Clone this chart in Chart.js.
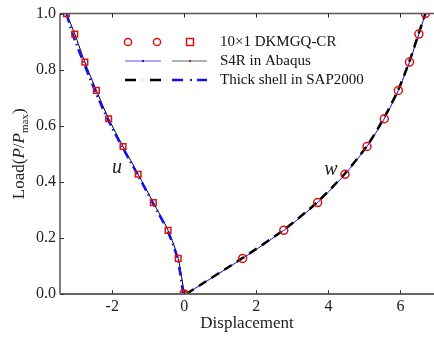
<!DOCTYPE html>
<html>
<head>
<meta charset="utf-8">
<script src="https://cdn.jsdelivr.net/npm/chart.js@4/dist/chart.umd.min.js"></script>
<style>
  html, body { margin: 0; padding: 0; background: #fff; }
  #wrap { width: 434px; height: 338px; }
</style>
</head>
<body>
<div id="wrap"><canvas id="c" width="434" height="338"></canvas></div>
<script>
// load levels P/Pmax
var loadSteps = [0, 0.127, 0.227, 0.326, 0.427, 0.526, 0.625, 0.726, 0.827, 0.927, 1.0];

// horizontal displacement u
var uDKMGQ = [-0.03, -0.17, -0.45, -0.86, -1.28, -1.70, -2.10, -2.44, -2.76, -3.04, -3.27];
var uS4R   = [0.00, -0.17, -0.45, -0.86, -1.28, -1.70, -2.10, -2.44, -2.76, -3.04, -3.27];
var uSAP   = [-0.03, -0.19, -0.47, -0.88, -1.30, -1.73, -2.13, -2.48, -2.80, -3.10, -3.27];

// vertical displacement w
var wDKMGQ = [0.00, 1.62, 2.76, 3.70, 4.46, 5.07, 5.55, 5.94, 6.25, 6.51, 6.69];
var wS4R   = [0.05, 1.62, 2.76, 3.70, 4.46, 5.07, 5.55, 5.94, 6.25, 6.51, 6.69];
var wSAP   = [0.05, 1.60, 2.74, 3.68, 4.44, 5.06, 5.53, 5.93, 6.24, 6.50, 6.69];

var xTicks = [-2, 0, 2, 4, 6];
var yTicks = [0, 0.2, 0.4, 0.6, 0.8, 1.0];

var legendLabels = ['10\u00d71 DKMGQ-CR', 'S4R in Abaqus', 'Thick shell in SAP2000'];

var RED = '#dd1111';
var BLUE = '#1010f0';
var SERIF = '"Liberation Serif", "DejaVu Serif", serif';

function pts(xs){
  return xs.map(function(x, i){ return {x: x, y: loadSteps[i]}; });
}

var annot = {
  id: 'annot',
  afterDraw: function(chart){
    var ctx = chart.ctx, a = chart.chartArea;
    var xs = chart.scales.x, ys = chart.scales.y;
    ctx.save();
    // axes frame
    ctx.strokeStyle = '#555';
    ctx.lineWidth = 1.5;
    ctx.beginPath();
    ctx.moveTo(a.left, a.top); ctx.lineTo(chart.width, a.top);
    ctx.moveTo(a.left, a.top); ctx.lineTo(a.left, a.bottom);
    ctx.stroke();
    ctx.strokeStyle = '#666';
    ctx.lineWidth = 2;
    ctx.beginPath();
    ctx.moveTo(a.left, a.bottom); ctx.lineTo(chart.width, a.bottom);
    ctx.stroke();
    // inward ticks
    ctx.lineWidth = 1;
    ctx.strokeStyle = '#333';
    ctx.beginPath();
    xTicks.forEach(function(v){
      var px = Math.round(xs.getPixelForValue(v)) + 0.5;
      ctx.moveTo(px, a.bottom); ctx.lineTo(px, a.bottom - 4);
      ctx.moveTo(px, a.top); ctx.lineTo(px, a.top + 4);
    });
    yTicks.forEach(function(v){
      var py = Math.round(ys.getPixelForValue(v)) + 0.5;
      ctx.moveTo(a.left, py); ctx.lineTo(a.left + 4, py);
    });
    ctx.stroke();

    // y title with italic P and subscript
    ctx.translate(18, (a.top + a.bottom) / 2);
    ctx.rotate(-Math.PI / 2);
    ctx.fillStyle = '#222';
    ctx.textBaseline = 'alphabetic';
    var parts = [
      ['Load(', '17px ' + SERIF, 0],
      ['P', 'italic 17px ' + SERIF, 0],
      ['/', '17px ' + SERIF, 0],
      ['P', 'italic 17px ' + SERIF, 0],
      ['max', '11px ' + SERIF, 4],
      [')', '17px ' + SERIF, 0]
    ];
    var total = 0;
    parts.forEach(function(p){ ctx.font = p[1]; total += ctx.measureText(p[0]).width; });
    var x0 = -total / 2;
    parts.forEach(function(p){
      ctx.font = p[1];
      ctx.fillText(p[0], x0, 6 + p[2]);
      x0 += ctx.measureText(p[0]).width;
    });
    ctx.setTransform(1, 0, 0, 1, 0, 0);

    // curve labels
    ctx.font = 'italic 20px ' + SERIF;
    ctx.textAlign = 'center';
    ctx.textBaseline = 'middle';
    ctx.fillText('u', 117, 168);
    ctx.fillText('w', 331, 170);

    // legend
    var lx = 125, ly = 42, gap = 19;
    ctx.lineWidth = 1.5;
    ctx.strokeStyle = RED;
    [128, 157].forEach(function(cx){
      ctx.beginPath(); ctx.arc(cx, ly, 3.6, 0, Math.PI * 2); ctx.stroke();
    });
    ctx.strokeRect(186.5, ly - 3.5, 7, 7);

    ctx.lineWidth = 1;
    ctx.strokeStyle = '#5555ff';
    ctx.beginPath(); ctx.moveTo(lx, ly + gap); ctx.lineTo(161, ly + gap); ctx.stroke();
    ctx.fillStyle = BLUE; ctx.fillRect(142, ly + gap - 1, 2, 2);
    ctx.strokeStyle = '#666';
    ctx.beginPath(); ctx.moveTo(172, ly + gap); ctx.lineTo(207, ly + gap); ctx.stroke();
    ctx.fillStyle = '#b03020'; ctx.fillRect(189, ly + gap - 1, 2, 2);

    ctx.lineWidth = 2.5;
    ctx.strokeStyle = '#000';
    ctx.beginPath();
    ctx.moveTo(lx, ly + 2 * gap); ctx.lineTo(136, ly + 2 * gap);
    ctx.moveTo(150, ly + 2 * gap); ctx.lineTo(161, ly + 2 * gap);
    ctx.stroke();
    ctx.fillStyle = '#e08000'; ctx.fillRect(142, ly + 2 * gap - 0.5, 1, 1);
    ctx.strokeStyle = BLUE;
    ctx.fillStyle = BLUE;
    ctx.beginPath();
    ctx.moveTo(172, ly + 2 * gap); ctx.lineTo(183, ly + 2 * gap);
    ctx.moveTo(197, ly + 2 * gap); ctx.lineTo(207, ly + 2 * gap);
    ctx.stroke();
    ctx.fillRect(190, ly + 2 * gap - 1, 2, 2);

    ctx.fillStyle = '#111';
    ctx.font = '15px ' + SERIF;
    ctx.textAlign = 'left';
    legendLabels.forEach(function(t, i){
      ctx.fillText(t, 220, ly + i * gap);
    });
    ctx.restore();
  }
};

var ctx = document.getElementById('c').getContext('2d');
var chart = new Chart(ctx, {
  type: 'scatter',
  data: {
    datasets: [
      { label: 'S4R u', data: pts(uS4R), showLine: true, borderColor: '#000', borderWidth: 1,
        pointRadius: 0, tension: 0.25, order: 3 },
      { label: 'S4R w', data: pts(wS4R), showLine: true, borderColor: '#0000ff', borderWidth: 1,
        pointRadius: 0, tension: 0.25, order: 3 },
      { label: 'SAP u', data: pts(uSAP), showLine: true, borderColor: BLUE, borderWidth: 2.5,
        borderDash: [9, 4, 1.5, 4], pointRadius: 0, tension: 0.25, order: 2 },
      { label: 'SAP w', data: pts(wSAP), showLine: true, borderColor: '#000', borderWidth: 2.5,
        borderDash: [9, 6], pointRadius: 0, tension: 0.25, order: 2 },
      { label: 'DKMGQ u', data: pts(uDKMGQ), pointStyle: 'rect', pointRadius: 4, borderColor: RED,
        borderWidth: 1.5, backgroundColor: 'rgba(0,0,0,0)', order: 1 },
      { label: 'DKMGQ w', data: pts(wDKMGQ), pointStyle: 'circle', pointRadius: 4, borderColor: RED,
        borderWidth: 1.5, backgroundColor: 'rgba(0,0,0,0)', order: 1 }
    ]
  },
  options: {
    responsive: false,
    animation: false,
    layout: { autoPadding: false, padding: { top: 12, right: 0, left: 0, bottom: 0 } },
    plugins: { legend: { display: false }, tooltip: { enabled: false } },
    scales: {
      x: {
        type: 'linear', min: -3.45, max: 6.93,
        afterFit: function(s){ s.height = 44; s.paddingLeft = 0; s.paddingRight = 0; },
        afterBuildTicks: function(s){ s.ticks = xTicks.map(function(v){ return {value: v}; }); },
        grid: { display: false, drawTicks: false }, border: { display: false },
        ticks: { color: '#222', font: { family: SERIF, size: 16 }, padding: 3,
                 callback: function(v){ return String(v); } },
        title: { display: true, text: 'Displacement', color: '#222',
                 font: { family: SERIF, size: 17 }, padding: { top: 0, bottom: 4 } }
      },
      y: {
        type: 'linear', min: 0, max: 1,
        afterFit: function(s){ s.width = 60; },
        afterBuildTicks: function(s){ s.ticks = yTicks.map(function(v){ return {value: v}; }); },
        grid: { display: false, drawTicks: false }, border: { display: false },
        ticks: { color: '#222', font: { family: SERIF, size: 16 }, padding: 4,
                 callback: function(v){ return v.toFixed(1); } }
      }
    }
  },
  plugins: [annot]
});
</script>
</body>
</html>
